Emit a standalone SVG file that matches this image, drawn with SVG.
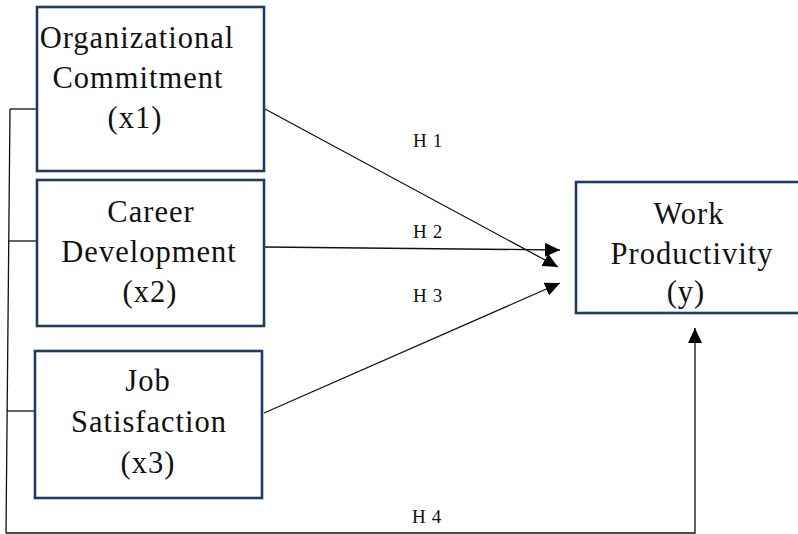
<svg xmlns="http://www.w3.org/2000/svg" width="798" height="534" viewBox="0 0 798 534">
<style>
.box{fill:#fff;stroke:#1f3a63;stroke-width:2.6}
.t{font-family:"Liberation Serif","Times New Roman",serif;font-size:30.5px;letter-spacing:1px;text-anchor:middle;fill:#111}
.h{font-family:"Liberation Serif","Times New Roman",serif;font-size:19px;letter-spacing:0.6px;fill:#111}
.c{fill:none;stroke:#111;stroke-width:1.3}
</style>
<defs>
<marker id="ah" viewBox="0 0 15 14" refX="15" refY="7" markerWidth="15" markerHeight="14" orient="auto" markerUnits="userSpaceOnUse">
<path d="M0,0 L15,7 L0,14 z" fill="#000"/>
</marker>
</defs>
<rect width="798" height="534" fill="#fff"/>
<g id="connectors">
<line class="c" x1="10" y1="109" x2="6" y2="533"/>
<line class="c" x1="10" y1="109" x2="37" y2="109"/>
<line class="c" x1="8" y1="241" x2="37" y2="241"/>
<line class="c" x1="7" y1="411" x2="36" y2="411"/>
<polyline class="c" points="6,533 695,533 695,328" marker-end="url(#ah)"/>
<line class="c" x1="265" y1="109" x2="558" y2="267" marker-end="url(#ah)"/>
<line class="c" x1="265" y1="247" x2="560" y2="250" marker-end="url(#ah)"/>
<line class="c" x1="264" y1="413" x2="560" y2="283" marker-end="url(#ah)"/>
<text class="h" x="413" y="147">H 1</text>
<text class="h" x="413" y="238">H 2</text>
<text class="h" x="413" y="302">H 3</text>
<text class="h" x="412" y="523">H 4</text>
</g>
<g id="x1">
<rect class="box" x="37" y="7" width="227" height="164"/>
<text class="t" x="137" y="48">Organizational</text>
<text class="t" x="138" y="88">Commitment</text>
<text class="t" x="135" y="128">(x1)</text>
</g>
<g id="x2">
<rect class="box" x="37" y="180" width="227" height="146"/>
<text class="t" x="151" y="222">Career</text>
<text class="t" x="149" y="262">Development</text>
<text class="t" x="150" y="302">(x2)</text>
</g>
<g id="x3">
<rect class="box" x="35" y="351" width="227" height="147"/>
<text class="t" x="148" y="391">Job</text>
<text class="t" x="149" y="432">Satisfaction</text>
<text class="t" x="148" y="473">(x3)</text>
</g>
<g id="y">
<rect class="box" x="576" y="182" width="230" height="131"/>
<text class="t" x="689" y="224">Work</text>
<text class="t" x="692" y="264">Productivity</text>
<text class="t" x="686" y="302">(y)</text>
</g>
</svg>
